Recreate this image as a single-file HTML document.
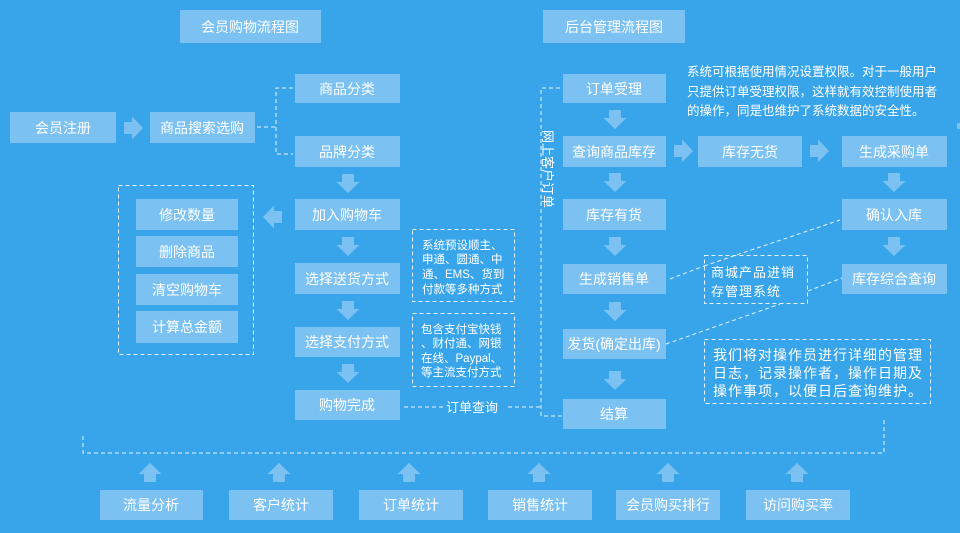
<!DOCTYPE html>
<html><head><meta charset="utf-8"><style>
html,body{margin:0;padding:0;background:#38a5ea;}
svg{display:block}
text{font-family:"Liberation Sans","Noto Sans CJK SC",sans-serif;fill:#fff}
</style></head><body>
<svg width="960" height="533" viewBox="0 0 960 533" xmlns="http://www.w3.org/2000/svg">
<defs>
<g id="ad"><polygon points="-6,0 6,0 6,8 11.5,8 0,19 -11.5,8 -6,8" fill="#7bc1f1"/></g>
<g id="au"><polygon points="-6,19 6,19 6,11 11.5,11 0,0 -11.5,11 -6,11" fill="#7bc1f1"/></g>
<g id="ar"><polygon points="0,-6 0,6 8,6 8,11.5 19,0 8,-11.5 8,-6" fill="#7bc1f1"/></g>
<g id="al"><polygon points="19,-6 19,6 11,6 11,11.5 0,0 11,-11.5 11,-6" fill="#7bc1f1"/></g>
</defs>
<rect width="960" height="533" fill="#38a5ea"/>
<g fill="#7bc1f1">
<rect x="180" y="10" width="141" height="33"/><rect x="543" y="10" width="142" height="33"/>
<rect x="10" y="112" width="106" height="31"/><rect x="150" y="112" width="105" height="31"/>
<rect x="295" y="74" width="105" height="29"/><rect x="295" y="136" width="105" height="31"/>
<rect x="295" y="199" width="105" height="31"/><rect x="295" y="263" width="105" height="31"/>
<rect x="295" y="327" width="105" height="30"/><rect x="295" y="390" width="105" height="30"/>
<rect x="136" y="199" width="102" height="31"/><rect x="136" y="236" width="102" height="31"/>
<rect x="136" y="274" width="102" height="31"/><rect x="136" y="311" width="102" height="32"/>
<rect x="563" y="74" width="103" height="29"/><rect x="563" y="136" width="103" height="31"/>
<rect x="563" y="199" width="103" height="31"/><rect x="563" y="264" width="103" height="30"/>
<rect x="563" y="329" width="103" height="30"/><rect x="563" y="399" width="103" height="30"/>
<rect x="698" y="136" width="104" height="31"/><rect x="842" y="136" width="105" height="31"/>
<rect x="842" y="199" width="105" height="31"/><rect x="842" y="264" width="105" height="30"/>
<rect x="100" y="490" width="103" height="30"/><rect x="229" y="490" width="104" height="30"/>
<rect x="359" y="490" width="104" height="30"/><rect x="488" y="490" width="104" height="30"/>
<rect x="616" y="490" width="104" height="30"/><rect x="746" y="490" width="104" height="30"/>
<rect x="957" y="123" width="3" height="6"/>
</g>
<use href="#ar" x="124" y="128"/>
<use href="#ad" x="348" y="174"/><use href="#ad" x="348" y="237"/><use href="#ad" x="348" y="301"/><use href="#ad" x="348" y="364"/>
<use href="#al" x="263" y="217"/>
<use href="#ad" x="615" y="110"/><use href="#ad" x="615" y="173"/><use href="#ad" x="615" y="237"/><use href="#ad" x="615" y="302"/><use href="#ad" x="615" y="371"/>
<use href="#ar" x="674" y="151"/><use href="#ar" x="810" y="151"/>
<use href="#ad" x="894" y="173"/><use href="#ad" x="894" y="237"/>
<use href="#au" x="150" y="463"/><use href="#au" x="279" y="463"/><use href="#au" x="409" y="463"/><use href="#au" x="539" y="463"/><use href="#au" x="668" y="463"/><use href="#au" x="797" y="463"/>
<g fill="none" stroke="#e8f4fd" stroke-width="1" stroke-dasharray="4,3">
<polyline points="257,127 276,127"/><polyline points="293,88 276,88 276,154 293,154"/>
<rect x="118.5" y="185.5" width="135" height="169"/>
<rect x="412.5" y="229.5" width="102" height="72"/><rect x="412.5" y="313.5" width="102" height="73"/>
<polyline points="404,407 443,407"/><polyline points="508,407 541,407"/>
<polyline points="560,88 541,88 541,416 563,416"/>
<rect x="704.5" y="255.5" width="103" height="48"/>
<rect x="704.5" y="339.5" width="226" height="64"/>
<line x1="670" y1="279" x2="704" y2="266"/><line x1="704" y1="266" x2="840" y2="220"/>
<line x1="808" y1="291" x2="842" y2="278"/><line x1="666" y1="344" x2="780" y2="304"/>
<polyline points="83,436 83,453 884,453 884,420"/>
</g>
<g font-size="14" text-anchor="middle">
<text x="250" y="32">会员购物流程图</text><text x="614" y="32">后台管理流程图</text>
<text x="63" y="133">会员注册</text><text x="202" y="133">商品搜索选购</text>
<text x="347" y="94">商品分类</text><text x="347" y="157">品牌分类</text>
<text x="347" y="220">加入购物车</text><text x="347" y="284">选择送货方式</text>
<text x="347" y="347">选择支付方式</text><text x="347" y="410">购物完成</text>
<text x="187" y="220">修改数量</text><text x="187" y="257">删除商品</text>
<text x="187" y="295">清空购物车</text><text x="187" y="332">计算总金额</text>
<text x="614" y="94">订单受理</text><text x="614" y="157">查询商品库存</text>
<text x="614" y="220">库存有货</text><text x="614" y="284">生成销售单</text>
<text x="614" y="349">发货(确定出库)</text><text x="614" y="419">结算</text>
<text x="750" y="157">库存无货</text><text x="894" y="157">生成采购单</text>
<text x="894" y="220">确认入库</text><text x="894" y="284">库存综合查询</text>
<text x="151" y="510">流量分析</text><text x="281" y="510">客户统计</text>
<text x="411" y="510">订单统计</text><text x="540" y="510">销售统计</text>
<text x="668" y="510">会员购买排行</text><text x="798" y="510">访问购买率</text>
</g>
<g font-size="13">
<text x="446" y="412">订单查询</text>
<text x="711" y="277" letter-spacing="1">商城产品进销</text><text x="711" y="296" letter-spacing="1">存管理系统</text>
</g>
<g font-size="14" letter-spacing="1">
<text x="713" y="360">我们将对操作员进行详细的管理</text>
<text x="713" y="378">日志，记录操作者，操作日期及</text>
<text x="713" y="396">操作事项，以便日后查询维护。</text>
</g>
<g font-size="12.5">
<text x="687" y="76">系统可根据使用情况设置权限。对于一般用户</text>
<text x="687" y="96">只提供订单受理权限，这样就有效控制使用者</text>
<text x="687" y="115">的操作，同是也维护了系统数据的安全性。</text>
</g>
<g font-size="11.5">
<text x="422" y="249">系统预设顺主、</text><text x="422" y="263">申通、圆通、中</text>
<text x="422" y="278">通、EMS、货到</text><text x="422" y="293">付款等多种方式</text>
<text x="421" y="333">包含支付宝快钱</text><text x="421" y="347">、财付通、网银</text>
<text x="421" y="362">在线、Paypal、</text><text x="421" y="376">等主流支付方式</text>
</g>
<text font-size="13" transform="translate(543,130) rotate(90)">网上客户订单</text>
</svg>
</body></html>
